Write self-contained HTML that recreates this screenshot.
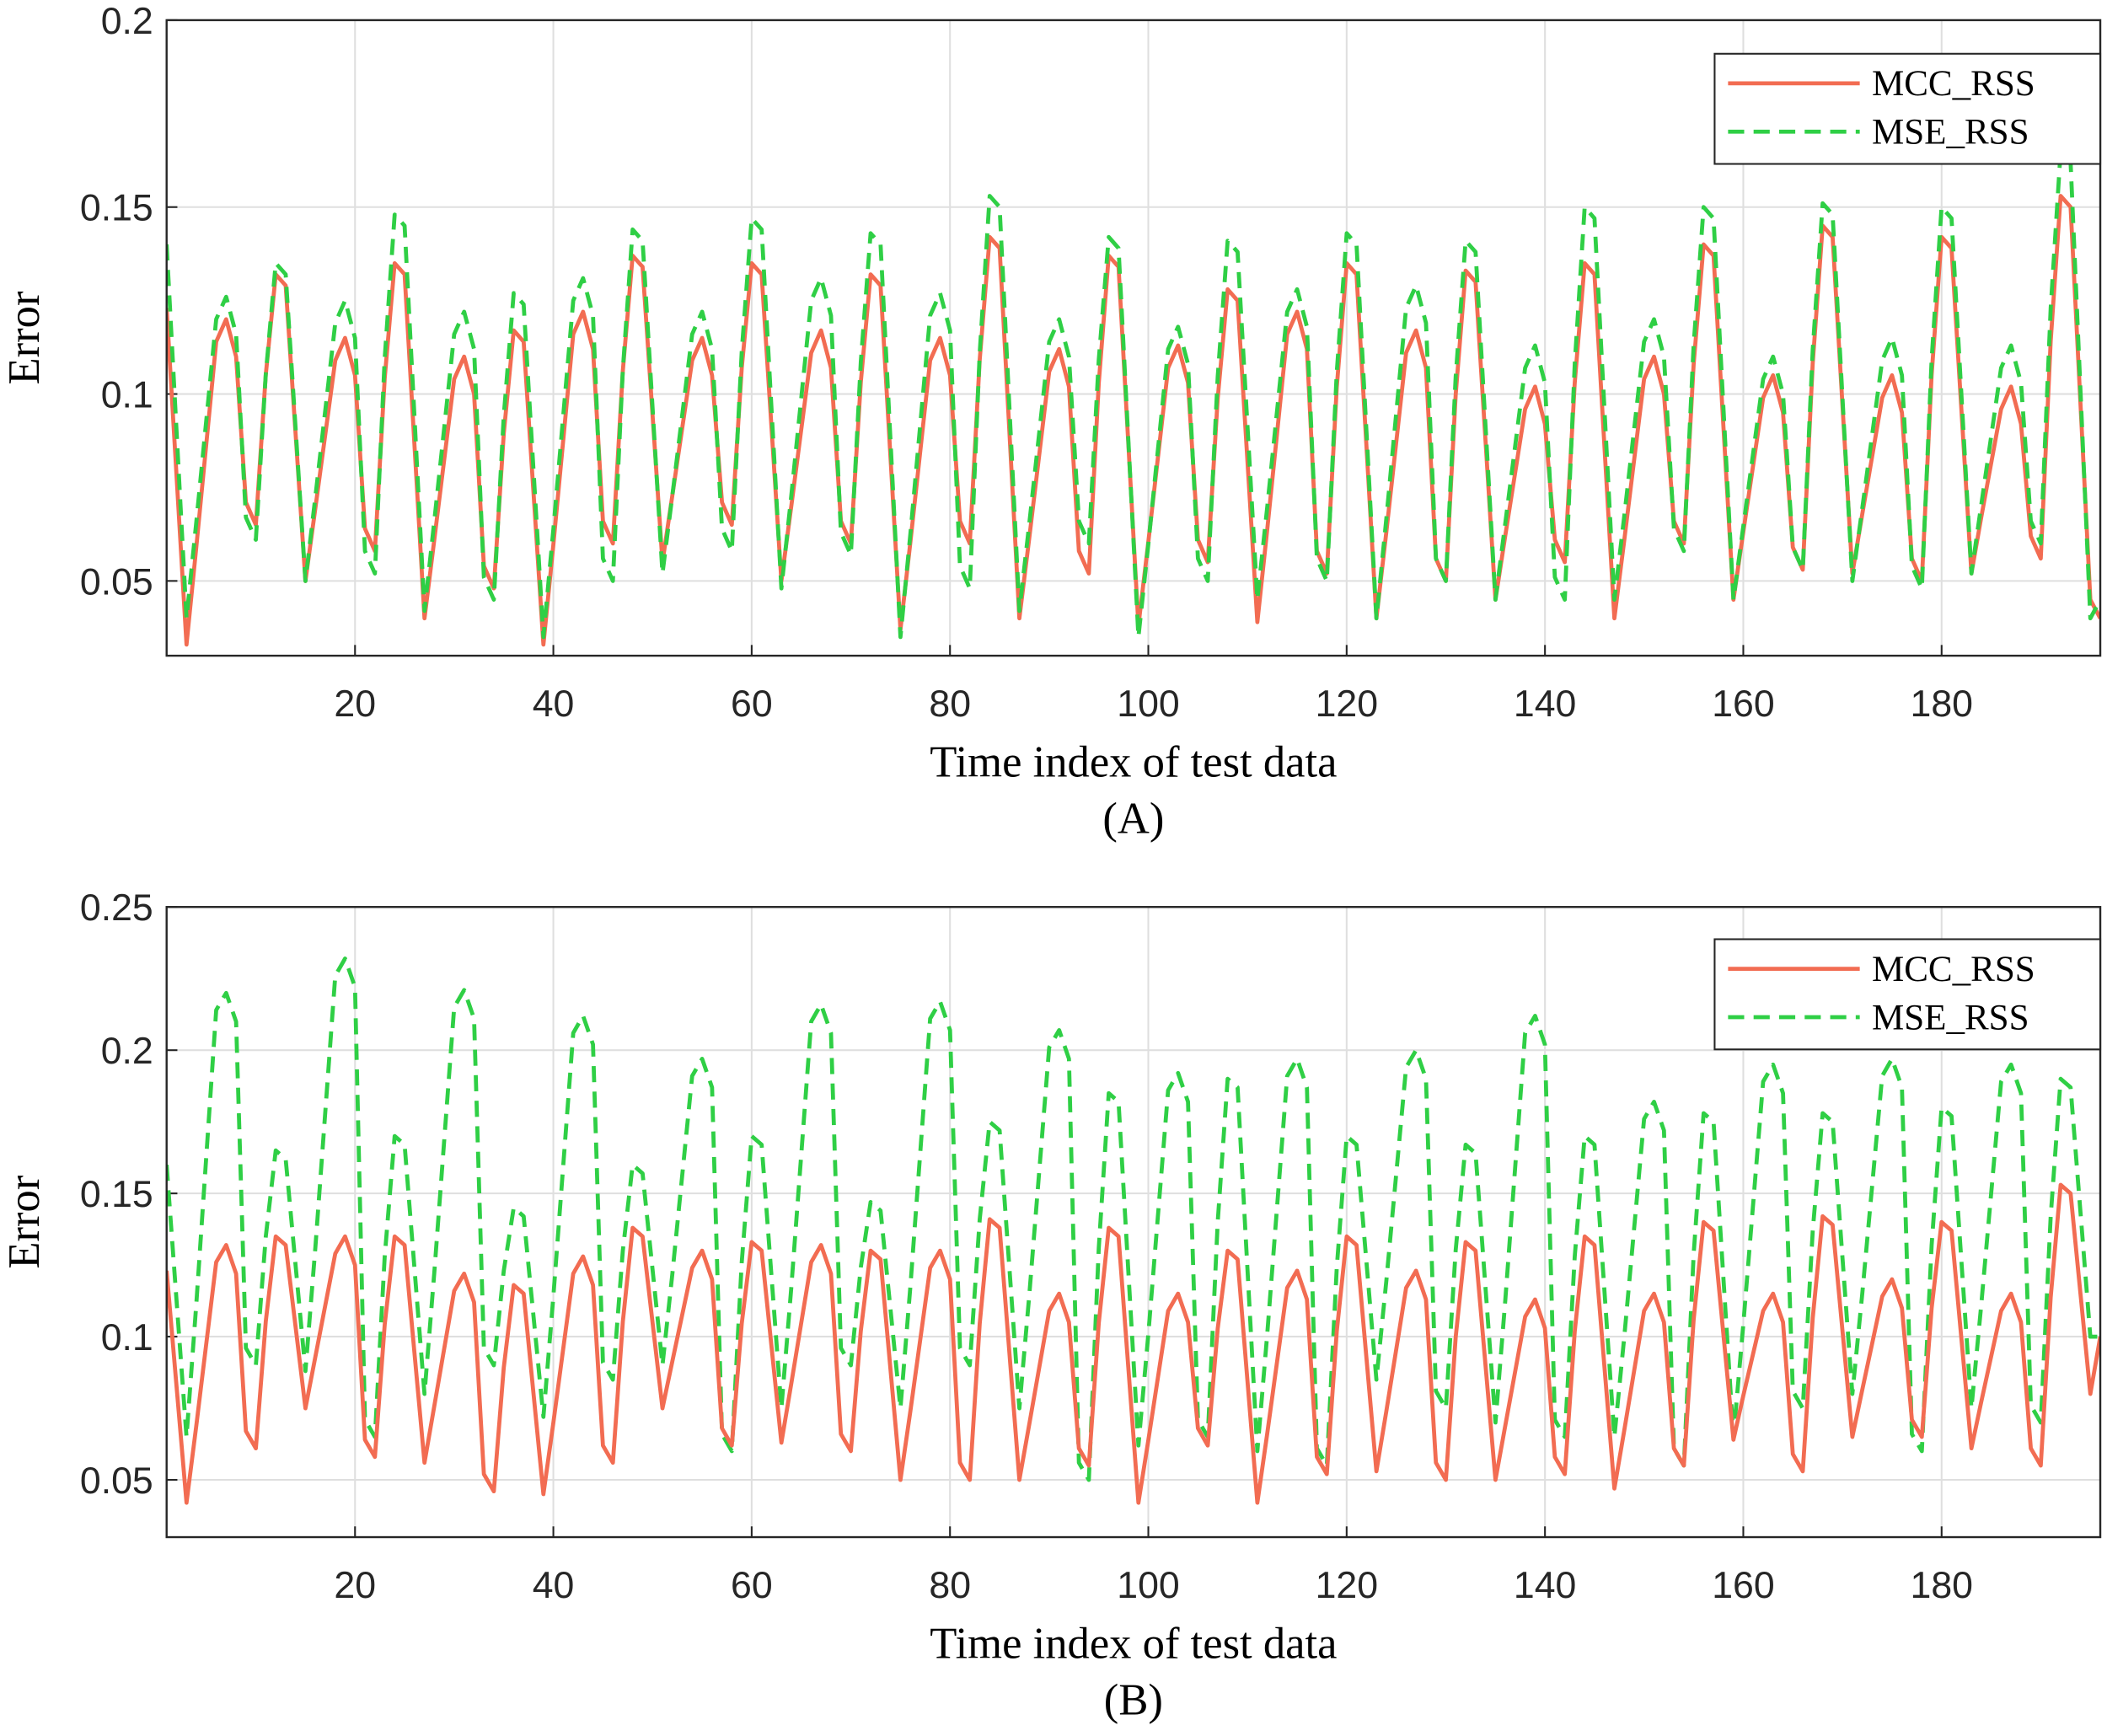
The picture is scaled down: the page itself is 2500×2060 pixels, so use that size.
<!DOCTYPE html>
<html><head><meta charset="utf-8"><style>
html,body{margin:0;padding:0;background:#fff;}
svg{display:block;}
.tk{font-family:"Liberation Sans",sans-serif;font-size:28px;fill:#262626;}
.lb{font-family:"Liberation Serif",serif;font-size:33px;fill:#000;}
.lg{font-family:"Liberation Serif",serif;font-size:27px;fill:#000;}
</style></head><body>
<svg id="s" width="2500" height="2060" viewBox="0 0 1568 1292" preserveAspectRatio="none" xmlns="http://www.w3.org/2000/svg"></svg>
<script>
const S=document.getElementById('s');let h='';
function build(start,d,p1,m1,p2,end){const pts=[[1,start]];
for(let k=0;k<17;k++){const b=12*k;pts.push([b+3,d[k]]);if(k<16){
pts.push([b+4,d[k]+0.3*(p1[k]-d[k])]);pts.push([b+6,p1[k]-0.006]);pts.push([b+7,p1[k]]);pts.push([b+8,p1[k]-0.01]);
pts.push([b+9,m1[k]+0.006]);pts.push([b+10,m1[k]]);pts.push([b+11,m1[k]+0.6*(p2[k]-m1[k])]);pts.push([b+12,p2[k]]);pts.push([b+13,p2[k]-0.003]);}}
pts.push([196,end]);return pts;}
function plot(top,bot,ymin,ymax,yt,series,legY,cap){
const L=124,R=1563;const X=x=>L+(x-1)/(196-1)*(R-L);const Y=y=>bot-(y-ymin)/(ymax-ymin)*(bot-top);
for(let x=20;x<=180;x+=20){h+=`<line x1="${X(x)}" y1="${top}" x2="${X(x)}" y2="${bot}" stroke="#dfdfdf" stroke-width="1.3"/>`;
h+=`<line x1="${X(x)}" y1="${bot}" x2="${X(x)}" y2="${bot-8}" stroke="#262626" stroke-width="1.3"/>`;
h+=`<text class="tk" x="${X(x)}" y="${bot+45}" text-anchor="middle">${x}</text>`;}
yt.forEach(v=>{h+=`<line x1="${L}" y1="${Y(v)}" x2="${R}" y2="${Y(v)}" stroke="#dfdfdf" stroke-width="1.3"/>`;
h+=`<line x1="${L}" y1="${Y(v)}" x2="${L+8}" y2="${Y(v)}" stroke="#262626" stroke-width="1.3"/>`;
h+=`<text class="tk" x="${L-10}" y="${Y(v)+10}" text-anchor="end">${v}</text>`;});
h+=`<defs><clipPath id="c${top}"><rect x="${L}" y="${top}" width="${R-L}" height="${bot-top}"/></clipPath></defs>`;
series.forEach(s=>{h+=`<polyline clip-path="url(#c${top})" fill="none" stroke="${s.c}" stroke-width="3" ${s.dash?'stroke-dasharray="12,7"':''} stroke-linejoin="round" points="${s.p.map(q=>X(q[0]).toFixed(1)+','+Y(q[1]).toFixed(1)).join(' ')}"/>`;});
h+=`<rect x="${L}" y="${top}" width="${R-L}" height="${bot-top}" fill="none" stroke="#262626" stroke-width="1.5"/>`;
h+=`<rect x="1276" y="${legY}" width="287" height="82" fill="#fff" stroke="#262626" stroke-width="1.3"/>`;
h+=`<line x1="1286" y1="${legY+22}" x2="1384" y2="${legY+22}" stroke="#f26c52" stroke-width="3"/><text class="lg" x="1393" y="${legY+31}">MCC_RSS</text>`;
h+=`<line x1="1286" y1="${legY+58}" x2="1384" y2="${legY+58}" stroke="#2fcf45" stroke-width="3" stroke-dasharray="12,7"/><text class="lg" x="1393" y="${legY+67}">MSE_RSS</text>`;
h+=`<text class="lb" x="${(L+R)/2}" y="${bot+90}" text-anchor="middle">Time index of test data</text>`;
h+=`<text class="lb" x="${(L+R)/2}" y="${bot+132}" text-anchor="middle">${cap}</text>`;
h+=`<text class="lb" transform="translate(29,${(top+bot)/2}) rotate(-90)" text-anchor="middle">Error</text>`;}
const aM=build(0.123,[0.033,0.05,0.04,0.033,0.055,0.05,0.037,0.04,0.038,0.039,0.04,0.045,0.04,0.045,0.052,0.052,0.045],
[0.12,0.115,0.11,0.122,0.115,0.117,0.115,0.112,0.113,0.122,0.117,0.102,0.11,0.105,0.105,0.102],
[0.065,0.058,0.048,0.06,0.065,0.06,0.06,0.052,0.055,0.052,0.05,0.055,0.06,0.053,0.05,0.056],
[0.132,0.135,0.117,0.137,0.135,0.132,0.142,0.137,0.128,0.135,0.133,0.135,0.14,0.145,0.142,0.153],0.04);
const aS=build(0.14,[0.04,0.05,0.042,0.035,0.052,0.048,0.035,0.042,0.035,0.045,0.04,0.045,0.045,0.045,0.05,0.052,0.04],
[0.126,0.125,0.122,0.131,0.122,0.131,0.127,0.12,0.118,0.128,0.129,0.113,0.12,0.11,0.115,0.113],
[0.061,0.052,0.045,0.05,0.058,0.057,0.048,0.06,0.05,0.05,0.05,0.045,0.058,0.053,0.048,0.06],
[0.135,0.148,0.127,0.144,0.147,0.143,0.153,0.142,0.141,0.143,0.141,0.15,0.15,0.151,0.15,0.165],0.045);
const bM=build(0.123,[0.042,0.075,0.056,0.045,0.075,0.063,0.05,0.05,0.042,0.042,0.053,0.05,0.047,0.064,0.065,0.061,0.08],
[0.132,0.135,0.122,0.128,0.13,0.132,0.13,0.115,0.115,0.123,0.123,0.113,0.115,0.115,0.12,0.115],
[0.061,0.058,0.046,0.056,0.062,0.06,0.05,0.055,0.062,0.052,0.05,0.052,0.055,0.053,0.065,0.055],
[0.135,0.135,0.118,0.138,0.133,0.13,0.141,0.138,0.13,0.135,0.133,0.135,0.14,0.142,0.14,0.153],0.1);
const bS=build(0.16,[0.065,0.088,0.08,0.072,0.09,0.075,0.075,0.075,0.062,0.06,0.085,0.07,0.065,0.065,0.08,0.075,0.1],
[0.22,0.232,0.221,0.212,0.197,0.216,0.217,0.207,0.192,0.197,0.2,0.212,0.182,0.195,0.197,0.195],
[0.09,0.065,0.09,0.085,0.06,0.09,0.09,0.05,0.065,0.055,0.075,0.065,0.055,0.075,0.06,0.07],
[0.165,0.17,0.145,0.16,0.17,0.147,0.175,0.185,0.19,0.17,0.167,0.17,0.178,0.178,0.18,0.19],0.1);
plot(15,488,0.03,0.2,[0.05,0.1,0.15,0.2],[{p:aM,c:"#f26c52"},{p:aS,c:"#2fcf45",dash:1}],40,"(A)");
plot(675,1144,0.03,0.25,[0.05,0.1,0.15,0.2,0.25],[{p:bS,c:"#2fcf45",dash:1},{p:bM,c:"#f26c52"}],699,"(B)");
S.innerHTML=h;
</script>
</body></html>
